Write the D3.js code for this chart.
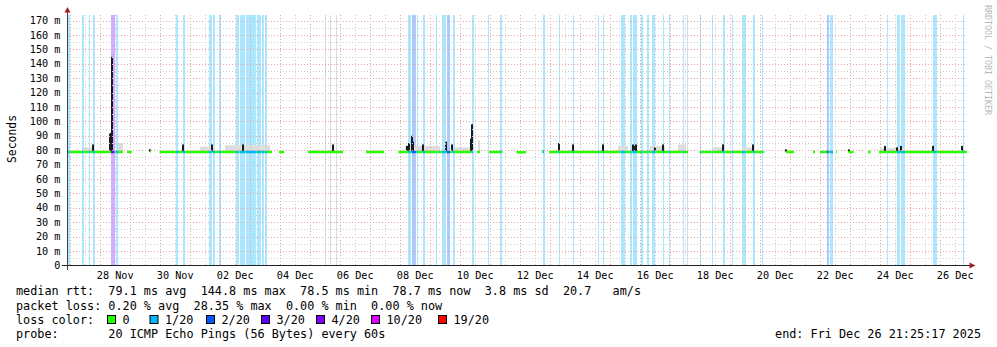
<!DOCTYPE html>
<html><head><meta charset="utf-8">
<script src="https://cdn.jsdelivr.net/npm/d3@7"></script>
<style>
body{margin:0;background:#fff}
svg{display:block}
text{font-family:"DejaVu Sans Mono",monospace;white-space:pre}
</style></head><body>
<svg id="c" width="997" height="347"></svg>
<script>
// Time is given as a "calendar day" number: Nov d = d, Dec d = 30 + d (fraction = time of day, UTC)
const startDay = 26 + 77117/86400;   // Nov 26 21:25:17
const endDay   = 56 + 77117/86400;   // Dec 26 21:25:17

const yTicks = [0,10,20,30,40,50,60,70,80,90,100,110,120,130,140,150,160,170];
const yTickLabels = ["0","10 m","20 m","30 m","40 m","50 m","60 m","70 m","80 m","90 m","100 m","110 m","120 m","130 m","140 m","150 m","160 m","170 m"];
const dateLabels = ["28 Nov","30 Nov","02 Dec","04 Dec","06 Dec","08 Dec","10 Dec","12 Dec","14 Dec","16 Dec","18 Dec","20 Dec","22 Dec","24 Dec","26 Dec"];
const dateLabelDays = [28.5,30.5,32.5,34.5,36.5,38.5,40.5,42.5,44.5,46.5,48.5,50.5,52.5,54.5,56.5];

const lossLevels = [0,1,2,3,4,10,19];
const lossLabels = ["0","1/20","2/20","3/20","4/20","10/20","19/20"];
const lossColors = ["#26ff00","#00b8ff","#0059ff","#5e00ff","#7e00ff","#dd00ff","#ff0000"];

const legendRtt  = "median rtt:  79.1 ms avg  144.8 ms max  78.5 ms min  78.7 ms now  3.8 ms sd  20.7   am/s";
const legendLoss = "packet loss: 0.20 % avg  28.35 % max  0.00 % min  0.00 % now";
const legendProbe = "probe:       20 ICMP Echo Pings (56 Bytes) every 60s";
const legendEnd = "end: Fri Dec 26 21:25:17 2025";

// [from, to, median ms]
const dataRanges = [
 [26.893,28.75,78.8],[28.893,29.05,78.8],[29.66,29.693,79.2],[29.977,33.727,78.8],
 [33.96,34.127,78.8],[34.927,36.093,78.8],[36.86,37.46,78.8],[37.943,40.427,78.8],
 [40.56,40.66,78.8],[40.96,41.393,78.8],[41.877,42.193,78.6],[42.727,42.777,79.0],
 [42.96,47.593,78.8],[47.977,50.11,78.8],[50.86,51.127,78.8],[51.76,51.827,78.8],
 [51.993,52.427,78.8],[52.527,52.56,79.0],[52.943,53.11,78.8],[53.593,53.677,78.8],
 [53.96,56.893,78.8]
];
// [from, to, lost pings of 20]
const lossBands = [
 [26.91,26.977,1],[27.393,27.443,1],[27.61,27.66,1],[27.76,27.827,1],
 [28.36,28.477,4],[28.51,28.593,1],
 [30.527,30.593,1],[30.743,30.827,1],
 [31.627,31.71,1],[31.743,31.827,1],[31.96,32.027,1],
 [32.527,32.61,1],[32.643,32.827,1],[32.86,33.193,1],[33.227,33.36,1],[33.393,33.46,1],[33.493,33.56,1],
 [38.27,38.35,1],[38.383,38.527,2],[38.56,38.603,1],[38.75,38.827,1],[39.177,39.21,1],
 [39.383,39.517,1],[39.55,39.66,2],[39.75,39.817,1],[40.383,40.47,1],[40.927,40.96,1],[41.327,41.377,1],
 [42.76,42.827,1],[43.293,43.327,1],[43.76,43.793,1],[44.593,44.627,1],[44.76,44.793,1],
 [45.35,45.493,1],[45.66,45.717,1],[45.75,45.877,1],[46.027,46.077,1],[46.237,46.277,1],[46.383,46.493,1],
 [46.76,46.793,1],[46.943,46.993,1],[47.417,47.46,1],[47.993,48.027,1],[48.383,48.417,1],[48.743,48.81,1],
 [49.05,49.093,1],[49.393,49.51,1],[49.77,49.827,1],[50.07,50.103,1],
 [52.21,52.277,2],[52.327,52.437,1],[54.21,54.243,1],[54.57,54.66,1],[54.693,54.827,1],[55.77,55.883,1],[56.76,56.793,1]
];
const unknownBands = [[35.493,35.527],[35.66,35.693],[35.86,35.893],[47.56,47.593]];
// [time, top ms] dense (dark) smoke
const darkSmoke = [
 [27.76,84],[28.33,91.5],[28.365,92],[28.39,144.8],[29.67,80.6],[30.76,84],[31.727,84],[32.76,84],[35.76,84],
 [38.227,83],[38.293,85],[38.393,90],[38.427,86],[38.76,84],[39.527,86],[39.727,84],[40.343,88],[40.377,98],
 [43.293,85],[43.76,84],[44.76,84],[45.76,84],[45.81,83],[45.86,84],[46.493,82],[46.76,84],[48.76,84],[49.76,84],
 [50.86,80.6],[52.96,80.6],[54.16,83],[54.56,82],[54.693,83],[55.76,83],[56.727,83]
];
// [from, to, top ms] light smoke
const lightSmoke = [
 [27.46,27.827,82],[28.593,28.76,85],[31.327,31.827,82.5],[32.16,33.66,83.5],[38.16,39.327,83],[39.827,40.327,82],
 [40.6,40.66,87],[45.26,45.593,83],[46.327,46.827,83],[47.26,47.527,84],[48.393,48.793,82],[49.393,49.827,82],[53.993,54.827,81.5]
];

const day = v => new Date(Date.UTC(2025,10,1) + (v-1)*864e5);

const svg = d3.select("#c");
const x = d3.scaleUtc().domain([day(startDay), day(endDay)]).range([67, 967]);
const y = d3.scaleLinear().domain([0, 173.5]).range([265.5, 15.5]);
const X = v => x(day(v));
const colorOf = lvl => lossColors[lossLevels.indexOf(lvl)];
const plotTop = y(173.5) - 0.5, plotBot = y(0);

// loss background bands
svg.append("g").selectAll("rect").data(lossBands).join("rect")
  .attr("x", d => Math.round(X(d[0])))
  .attr("width", d => Math.max(1, Math.round(X(d[1])) - Math.round(X(d[0]))))
  .attr("y", plotTop).attr("height", plotBot - plotTop)
  .attr("fill", d => colorOf(d[2])).attr("fill-opacity", 0.33);
svg.append("g").selectAll("rect").data(unknownBands).join("rect")
  .attr("x", d => Math.round(X(d[0])))
  .attr("width", d => Math.max(1, Math.round(X(d[1])) - Math.round(X(d[0]))))
  .attr("y", plotTop).attr("height", plotBot - plotTop)
  .attr("fill", "#d9dde0");

// light smoke
svg.append("g").selectAll("rect").data(lightSmoke).join("rect")
  .attr("x", d => Math.round(X(d[0])))
  .attr("width", d => Math.max(1, Math.round(X(d[1])) - Math.round(X(d[0]))))
  .attr("y", d => y(d[2])).attr("height", d => y(79.5) - y(d[2]))
  .attr("fill", "#dddddd");

// dark smoke
svg.append("g").selectAll("rect").data(darkSmoke).join("rect")
  .attr("x", d => Math.round(X(d[0])) - 1).attr("width", 2)
  .attr("y", d => y(d[1])).attr("height", d => y(79) - y(d[1]))
  .attr("fill", "#1c1c1c");

// median line coloured by loss
const medianPieces = [];
dataRanges.forEach(([a, b, m]) => {
  const cuts = [a, b];
  lossBands.forEach(([s, e]) => { if (s > a && s < b) cuts.push(s); if (e > a && e < b) cuts.push(e); });
  cuts.sort((p, q) => p - q);
  for (let i = 0; i < cuts.length - 1; i++) {
    const mid = (cuts[i] + cuts[i+1]) / 2;
    const band = lossBands.find(([s, e]) => mid >= s && mid <= e);
    medianPieces.push([cuts[i], cuts[i+1], m, band ? band[2] : 0]);
  }
});
svg.append("g").selectAll("rect").data(medianPieces).join("rect")
  .attr("x", d => X(d[0]))
  .attr("width", d => Math.max(1, X(d[1]) - X(d[0])))
  .attr("y", d => y(d[2]) - 1.3).attr("height", 2.6)
  .attr("fill", d => colorOf(d[3]));

// grid
const grid = svg.append("g");
d3.range(5, 175, 5).forEach(v => {
  const yy = Math.round(y(v)) + 0.5;
  grid.append("line").attr("x1", 67).attr("x2", 967).attr("y1", yy).attr("y2", yy)
    .attr("stroke", v % 10 === 0 ? "#e4a4a4" : "#cfcfcf").attr("stroke-width", 1)
    .attr("stroke-dasharray", "1,2");
});
d3.range(27, 57, 0.5).forEach(v => {
  const xx = Math.round(X(v)) + 0.5;
  grid.append("line").attr("x1", xx).attr("x2", xx).attr("y1", plotTop).attr("y2", plotBot)
    .attr("stroke", Number.isInteger(v) ? "#e4a4a4" : "#cfcfcf").attr("stroke-width", 1)
    .attr("stroke-dasharray", "1,2");
});

// axes
svg.append("line").attr("x1", 62).attr("x2", 970).attr("y1", 265.5).attr("y2", 265.5).attr("stroke", "#222");
svg.append("line").attr("x1", 67.5).attr("x2", 67.5).attr("y1", 270).attr("y2", 12).attr("stroke", "#444");
svg.append("path").attr("d", "M969.5,262.5L975.5,265.5L969.5,268.5Z").attr("fill", "#9b2020");
svg.append("path").attr("d", "M64.5,12.5L67.5,7L70.5,12.5Z").attr("fill", "#9b2020");

// y tick labels
svg.append("g").selectAll("text").data(yTicks).join("text")
  .attr("x", 60.5).attr("y", d => y(d) + 3.6).attr("text-anchor", "end")
  .attr("font-size", "10.2px").attr("fill", "#000")
  .text((d, i) => yTickLabels[i]);

// x labels
svg.append("g").selectAll("text").data(dateLabelDays).join("text")
  .attr("x", d => X(d)).attr("y", 279).attr("text-anchor", "middle")
  .attr("font-size", "10.2px").attr("fill", "#000")
  .text((d, i) => dateLabels[i]);

// axis title
svg.append("text").attr("transform", "translate(15.5,139) rotate(-90)")
  .attr("text-anchor", "middle").attr("font-size", "11.4px").text("Seconds");
// watermark
svg.append("text").attr("transform", "translate(985,5) rotate(90)")
  .attr("font-size", "8.3px").attr("fill", "#b8b8b8").text("RRDTOOL / TOBI OETIKER");

// legend
const lg = svg.append("g").attr("font-size", "11.8px").attr("fill", "#000");
lg.append("text").attr("x", 16).attr("y", 295).text(legendRtt);
lg.append("text").attr("x", 16).attr("y", 309.5).text(legendLoss);
lg.append("text").attr("x", 16).attr("y", 323.5).text("loss color:");
const boxX = [107.5,150,206.5,261.5,316.5,371.5,438.5];
lossLabels.forEach((t, i) => {
  lg.append("rect").attr("x", boxX[i]).attr("y", 315.5).attr("width", 8).attr("height", 8)
    .attr("fill", lossColors[i]).attr("stroke", "#000").attr("stroke-width", 1);
  lg.append("text").attr("x", boxX[i] + 15).attr("y", 323.5).text(t);
});
lg.append("text").attr("x", 16).attr("y", 337.8).text(legendProbe);
lg.append("text").attr("x", 981).attr("y", 337.8).attr("text-anchor", "end").text(legendEnd);
</script>
</body></html>
